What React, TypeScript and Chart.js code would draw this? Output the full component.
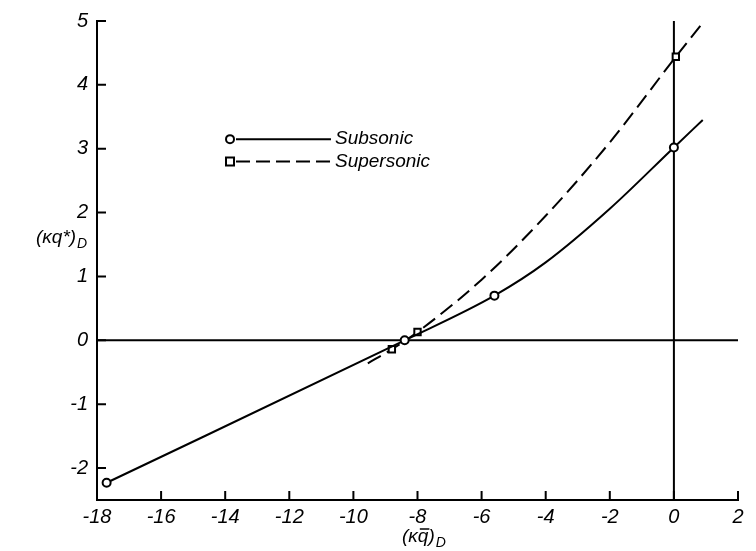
import React, { useEffect, useRef } from "react";
import { Chart, registerables } from "chart.js";

Chart.register(...registerables);

// Subsonic curve (solid)
const subX = [-17.7, -8.4, -5.6, -4, -2, 0, 0.9];
const subY = [-2.23, 0, 0.7, 1.22, 2.06, 3.02, 3.45];
const subMarker = [1, 1, 1, 0, 0, 1, 0];

// Supersonic curve (dashed)
const supX = [-9.55, -8.8, -8.0, -6, -4, -2, 0.06, 0.9];
const supY = [-0.36, -0.14, 0.13, 0.95, 1.95, 3.1, 4.44, 4.97];
const supMarker = [0, 1, 1, 0, 0, 0, 1, 0];

const xTicks = [-18, -16, -14, -12, -10, -8, -6, -4, -2, 0, 2];
const yTicks = [-2, -1, 0, 1, 2, 3, 4, 5];

const seriesNames = ["Subsonic", "Supersonic"];
const xTitleParts = ["(κ", "q", ")"];
const yTitle = "(κq*)";
const subscript = "D";

const FONT = "'Liberation Sans', 'DejaVu Sans', sans-serif";

const refPlugin = {
  id: "refPlugin",
  beforeDatasetsDraw(chart: any) {
    const { ctx, scales } = chart;
    const x = scales.x;
    const y = scales.y;
    ctx.save();
    ctx.strokeStyle = "#000";
    ctx.lineWidth = 2;
    ctx.beginPath();
    ctx.moveTo(x.getPixelForValue(-18), y.getPixelForValue(0));
    ctx.lineTo(x.getPixelForValue(2), y.getPixelForValue(0));
    ctx.moveTo(x.getPixelForValue(0), y.getPixelForValue(-2.5));
    ctx.lineTo(x.getPixelForValue(0), y.getPixelForValue(5));
    ctx.stroke();
    ctx.beginPath();
    for (const t of xTicks) {
      const px = x.getPixelForValue(t);
      ctx.moveTo(px, y.bottom);
      ctx.lineTo(px, y.bottom - 9);
    }
    for (const t of yTicks) {
      const py = y.getPixelForValue(t);
      ctx.moveTo(x.left, py);
      ctx.lineTo(x.left + 9, py);
    }
    ctx.stroke();
    ctx.restore();
  },
  afterDraw(chart: any) {
    const { ctx, scales } = chart;
    const x = scales.x;
    const y = scales.y;
    ctx.save();
    ctx.fillStyle = "#000";
    ctx.strokeStyle = "#000";
    ctx.textBaseline = "middle";
    ctx.textAlign = "left";
    const big = `italic 19px ${FONT}`;
    const small = `italic 14px ${FONT}`;

    // y title
    ctx.font = big;
    const yw = ctx.measureText(yTitle).width;
    const yty = y.getPixelForValue(1.6);
    ctx.fillText(yTitle, 36, yty);
    ctx.font = small;
    ctx.fillText(subscript, 36 + yw + 1, yty + 6);

    // x title with bar over q
    ctx.font = big;
    const w0 = ctx.measureText(xTitleParts[0]).width;
    const wq = ctx.measureText(xTitleParts[1]).width;
    const w2 = ctx.measureText(xTitleParts[2]).width;
    ctx.font = small;
    const ws = ctx.measureText(subscript).width;
    const total = w0 + wq + w2 + ws + 1;
    const sx = x.getPixelForValue(-7.8) - total / 2;
    const ty = 537;
    ctx.font = big;
    ctx.fillText(xTitleParts[0], sx, ty);
    ctx.fillText(xTitleParts[1], sx + w0, ty);
    ctx.fillText(xTitleParts[2], sx + w0 + wq, ty);
    ctx.font = small;
    ctx.fillText(subscript, sx + w0 + wq + w2 + 1, ty + 6);
    ctx.lineWidth = 1.5;
    ctx.beginPath();
    ctx.moveTo(sx + w0 + 2, ty - 8);
    ctx.lineTo(sx + w0 + wq + 1, ty - 8);
    ctx.stroke();

    // legend
    const lx0 = x.getPixelForValue(-13.85);
    const lx1 = x.getPixelForValue(-10.7);
    const ly1 = y.getPixelForValue(3.15);
    const ly2 = y.getPixelForValue(2.8);
    ctx.lineWidth = 2;
    ctx.beginPath();
    ctx.arc(lx0, ly1, 4, 0, Math.PI * 2);
    ctx.fillStyle = "#fff";
    ctx.fill();
    ctx.stroke();
    ctx.beginPath();
    ctx.moveTo(lx0 + 6, ly1);
    ctx.lineTo(lx1, ly1);
    ctx.stroke();
    ctx.fillStyle = "#fff";
    ctx.fillRect(lx0 - 4, ly2 - 4, 8, 8);
    ctx.strokeRect(lx0 - 4, ly2 - 4, 8, 8);
    ctx.setLineDash([14, 6]);
    ctx.beginPath();
    ctx.moveTo(lx0 + 6, ly2);
    ctx.lineTo(lx1, ly2);
    ctx.stroke();
    ctx.setLineDash([]);
    ctx.fillStyle = "#000";
    ctx.font = big;
    ctx.fillText(seriesNames[0], lx1 + 4, ly1);
    ctx.fillText(seriesNames[1], lx1 + 4, ly2);
    ctx.restore();
  },
};

export default function App() {
  const ref = useRef<HTMLCanvasElement | null>(null);
  useEffect(() => {
    document.body.style.margin = "0";
    const canvas = ref.current!;
    const toPts = (xs: number[], ys: number[]) => xs.map((v, i) => ({ x: v, y: ys[i] }));
    const chart = new Chart(canvas, {
      type: "line",
      data: {
        datasets: [
          {
            label: seriesNames[0],
            data: toPts(subX, subY),
            borderColor: "#000",
            borderWidth: 2,
            cubicInterpolationMode: "monotone",
            pointRadius: subMarker.map((m) => (m ? 4 : 0)),
            pointStyle: "circle",
            pointBackgroundColor: "#fff",
            pointBorderColor: "#000",
            pointBorderWidth: 2,
            fill: false,
          },
          {
            label: seriesNames[1],
            data: toPts(supX, supY),
            borderColor: "#000",
            borderWidth: 2,
            borderDash: [15, 7],
            cubicInterpolationMode: "monotone",
            pointRadius: supMarker.map((m) => (m ? 4.5 : 0)),
            pointStyle: "rect",
            pointBackgroundColor: "#fff",
            pointBorderColor: "#000",
            pointBorderWidth: 2,
            fill: false,
          },
        ],
      },
      options: {
        responsive: false,
        animation: false,
        layout: { padding: { top: 18, right: 18, left: 0, bottom: 0 } },
        plugins: { legend: { display: false }, tooltip: { enabled: false } },
        scales: {
          x: {
            type: "linear",
            min: -18,
            max: 2,
            afterFit: (s: any) => { s.height = 51; },
            afterBuildTicks: (s: any) => { s.ticks = xTicks.map((v) => ({ value: v })); },
            grid: { display: false, drawTicks: false },
            border: { display: true, color: "#000", width: 2 },
            ticks: {
              color: "#000",
              padding: 5,
              font: { family: FONT, size: 20, style: "italic" },
              maxRotation: 0,
              callback: (v: any) => String(v),
            },
          },
          y: {
            type: "linear",
            min: -2.5,
            max: 5,
            afterFit: (s: any) => { s.width = 97; },
            afterBuildTicks: (s: any) => { s.ticks = yTicks.map((v) => ({ value: v })); },
            grid: { display: false, drawTicks: false },
            border: { display: true, color: "#000", width: 2 },
            ticks: {
              color: "#000",
              padding: 9,
              font: { family: FONT, size: 20, style: "italic" },
              callback: (v: any) => String(v),
            },
          },
        },
      },
      plugins: [refPlugin],
    } as any);
    return () => chart.destroy();
  }, []);
  return <canvas ref={ref} width={756} height={551} style={{ display: "block" }} />;
}
